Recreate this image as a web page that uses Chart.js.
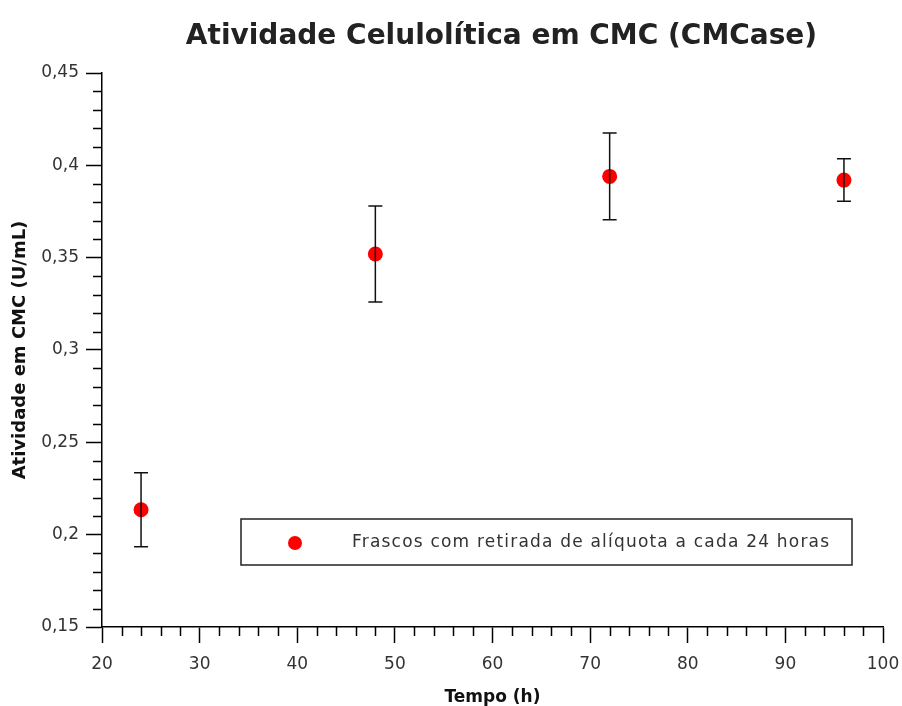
<!DOCTYPE html>
<html>
<head>
<meta charset="utf-8">
<script src="https://cdn.jsdelivr.net/npm/chart.js@4"></script>
<style>
  html, body { margin: 0; padding: 0; background: #fff; }
  #wrap { width: 902px; height: 706px; }
</style>
</head>
<body>
<div id="wrap"><canvas id="cmc"></canvas></div>
<script>
/* ---- data ---- */
const HOURS    = [24, 48, 72, 96];
const ACTIVITY = [0.2135, 0.352, 0.394, 0.392];
const ERR      = [0.020, 0.026, 0.0235, 0.0115];

const TITLE        = 'Atividade Celulolítica em CMC (CMCase)';
const X_TITLE      = 'Tempo (h)';
const Y_TITLE      = 'Atividade em CMC (U/mL)';
const SERIES_LABEL = 'Frascos com retirada de alíquota a cada 24 horas';

const AXIS_COLOR = '#000';
const TEXT_COLOR = '#333';
const DOT_COLOR  = '#ff0000';

const fmtComma = v => String(parseFloat(v.toFixed(2))).replace('.', ',');

/* error bars with caps, drawn from the scales */
const errorBarPlugin = {
    id: 'errorBars',
    afterDatasetsDraw(chart) {
        const { ctx, scales: { x, y } } = chart;
        ctx.save();
        ctx.strokeStyle = '#111';
        ctx.lineWidth = 1.5;
        HOURS.forEach((h, i) => {
            const px  = x.getPixelForValue(h);
            const top = y.getPixelForValue(ACTIVITY[i] + ERR[i]);
            const bot = y.getPixelForValue(ACTIVITY[i] - ERR[i]);
            ctx.beginPath();
            ctx.moveTo(px, top); ctx.lineTo(px, bot);
            ctx.moveTo(px - 7, top); ctx.lineTo(px + 7, top);
            ctx.moveTo(px - 7, bot); ctx.lineTo(px + 7, bot);
            ctx.stroke();
        });
        ctx.restore();
    },
};

/* short minor ticks outside the axes */
const minorTickPlugin = {
    id: 'minorTicks',
    afterDraw(chart) {
        const { ctx, chartArea: a, scales: { x, y } } = chart;
        ctx.save();
        ctx.strokeStyle = AXIS_COLOR;
        ctx.lineWidth = 1.5;
        ctx.beginPath();
        for (let v = x.min; v <= x.max; v += 2) {
            if (v % 10 === 0) continue;
            const px = Math.round(x.getPixelForValue(v)) + 0.5;
            ctx.moveTo(px, a.bottom); ctx.lineTo(px, a.bottom + 9);
        }
        for (let k = 16; k < 45; k++) {
            if (k % 5 === 0) continue;
            const py = Math.round(y.getPixelForValue(k / 100)) + 0.5;
            ctx.moveTo(a.left - 9, py); ctx.lineTo(a.left, py);
        }
        ctx.stroke();
        ctx.restore();
    },
};

/* title + boxed legend */
const decorPlugin = {
    id: 'decor',
    afterDraw(chart) {
        const { ctx, chartArea: a } = chart;
        ctx.save();
        ctx.fillStyle = '#222';
        ctx.font = 'bold 28px "DejaVu Sans", sans-serif';
        ctx.textAlign = 'center';
        ctx.textBaseline = 'alphabetic';
        ctx.fillText(TITLE, (a.left + a.right) / 2 + 9, 44);

        const bx = a.left + 139, by = a.top + 446, bw = 611, bh = 46;
        ctx.strokeStyle = '#222';
        ctx.lineWidth = 1.5;
        ctx.strokeRect(bx, by, bw, bh);
        ctx.fillStyle = DOT_COLOR;
        ctx.beginPath();
        ctx.arc(bx + 54, by + bh / 2 + 1, 7, 0, Math.PI * 2);
        ctx.fill();
        ctx.fillStyle = TEXT_COLOR;
        ctx.font = '17px "DejaVu Sans", sans-serif';
        ctx.letterSpacing = '1.2px';
        ctx.textAlign = 'left';
        ctx.textBaseline = 'middle';
        ctx.fillText(SERIES_LABEL, bx + 111, by + bh / 2 + 1);
        ctx.restore();
    },
};

new Chart(document.getElementById('cmc'), {
    type: 'scatter',
    plugins: [errorBarPlugin, minorTickPlugin, decorPlugin],
    data: {
        datasets: [{
            label: SERIES_LABEL,
            data: HOURS.map((h, i) => ({ x: h, y: ACTIVITY[i] })),
            backgroundColor: DOT_COLOR,
            borderWidth: 0,
            pointRadius: 7.5,
        }],
    },
    options: {
        responsive: true,
        maintainAspectRatio: false,
        animation: false,
        layout: { padding: { top: 73, right: 19, left: 0, bottom: 0 } },
        plugins: { legend: { display: false }, tooltip: { enabled: false }, title: { display: false } },
        scales: {
            x: {
                type: 'linear', min: 20, max: 100,
                afterFit: s => { s.height = 79; s.paddingRight = 0; s.paddingLeft = 0; },
                ticks: { stepSize: 10, padding: 11, color: TEXT_COLOR, font: { family: 'DejaVu Sans', size: 17 } },
                grid: { drawOnChartArea: false, tickLength: 16, tickColor: AXIS_COLOR, tickWidth: 1.5 },
                border: { color: AXIS_COLOR, width: 1.5 },
                title: { display: true, text: X_TITLE, color: '#111', padding: { top: 0, bottom: 0 },
                         font: { family: 'DejaVu Sans', size: 17, weight: 'bold', lineHeight: 1 } },
            },
            y: {
                min: 0.15, max: 0.45,
                afterFit: s => { s.width = 102; },
                ticks: { stepSize: 0.05, padding: 7, color: TEXT_COLOR, callback: fmtComma,
                         font: { family: 'DejaVu Sans', size: 17 } },
                grid: { drawOnChartArea: false, tickLength: 16, tickColor: AXIS_COLOR, tickWidth: 1.5 },
                border: { color: AXIS_COLOR, width: 1.5 },
                title: { display: true, text: Y_TITLE, color: '#111', padding: { top: 10, bottom: 0 },
                         font: { family: 'DejaVu Sans', size: 18, weight: 'bold' } },
            },
        },
    },
});
</script>
</body>
</html>
